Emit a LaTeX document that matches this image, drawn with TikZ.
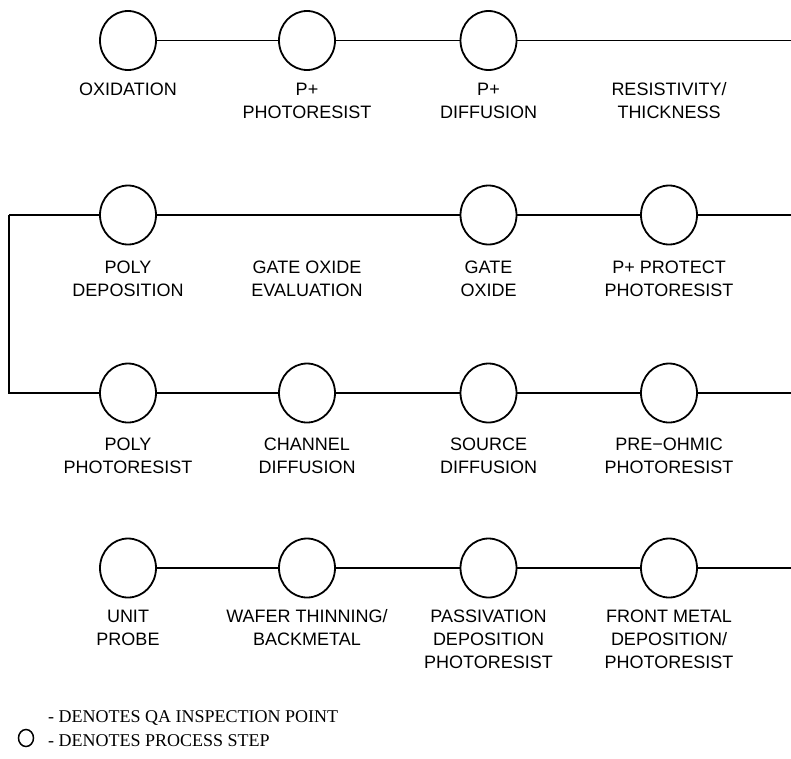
\documentclass[tikz,border=0pt]{standalone}
\usepackage{fontspec}
\setmainfont{Liberation Sans}
\newfontfamily\legendfont{Liberation Serif}
\usetikzlibrary{shapes.geometric}
\begin{document}
\begin{tikzpicture}[x=1pt,y=-1pt,
  stepnode/.style={ellipse, draw, line width=1.8pt, minimum width=56pt, minimum height=59pt, inner sep=0pt},
  lbl/.style={anchor=north, align=center, inner sep=0pt, font=\fontsize{18}{23}\selectfont},
  conn/.style={line width=1.8pt},
  legtext/.style={anchor=base west, inner sep=0pt, font=\legendfont\fontsize{18}{21}\selectfont}]
\useasboundingbox (0,0) rectangle (791,758);
% row 1
\node[stepnode] (a1) at (128,40.5) {};
\node[stepnode] (a2) at (307,40.5) {};
\node[stepnode] (a3) at (488.5,40.5) {};
\coordinate (aR) at (791,40.5);
\draw[conn] (a1) -- (a2) -- (a3) -- (aR);
\node[lbl] (la1) at (128,82) {\rule{0pt}{12.9pt}OXIDATION};
\node[lbl] (la2) at (307,82) {\rule{0pt}{12.9pt}P+\\PHOTORESIST};
\node[lbl] (la3) at (488.5,82) {\rule{0pt}{12.9pt}P+\\DIFFUSION};
\node[lbl] (la4) at (669,82) {\rule{0pt}{12.9pt}RESISTIVITY/\\THICKNESS};
% row 2
\node[stepnode] (b1) at (128,215) {};
\node[stepnode] (b3) at (488.5,215) {};
\node[stepnode] (b4) at (669,215) {};
\coordinate (bL) at (9,215);
\coordinate (bR) at (791,215);
\draw[conn] (bL) -- (b1) -- (b3) -- (b4) -- (bR);
\node[lbl] (lb1) at (128,260) {\rule{0pt}{12.9pt}POLY\\DEPOSITION};
\node[lbl] (lb2) at (307,260) {\rule{0pt}{12.9pt}GATE OXIDE\\EVALUATION};
\node[lbl] (lb3) at (488.5,260) {\rule{0pt}{12.9pt}GATE\\OXIDE};
\node[lbl] (lb4) at (669,260) {\rule{0pt}{12.9pt}P+ PROTECT\\PHOTORESIST};
% row 3
\node[stepnode] (c1) at (128,393) {};
\node[stepnode] (c2) at (307,393) {};
\node[stepnode] (c3) at (488.5,393) {};
\node[stepnode] (c4) at (669,393) {};
\coordinate (cL) at (9,393);
\coordinate (cR) at (791,393);
\draw[conn] (bL) -- (cL) -- (c1) -- (c2) -- (c3) -- (c4) -- (cR);
\node[lbl] (lc1) at (128,437.5) {\rule{0pt}{12.9pt}POLY\\PHOTORESIST};
\node[lbl] (lc2) at (307,437.5) {\rule{0pt}{12.9pt}CHANNEL\\DIFFUSION};
\node[lbl] (lc3) at (488.5,437.5) {\rule{0pt}{12.9pt}SOURCE\\DIFFUSION};
\node[lbl] (lc4) at (669,437.5) {\rule{0pt}{12.9pt}PRE−OHMIC\\PHOTORESIST};
% row 4
\node[stepnode] (d1) at (128,568) {};
\node[stepnode] (d2) at (307,568) {};
\node[stepnode] (d3) at (488.5,568) {};
\node[stepnode] (d4) at (669,568) {};
\coordinate (dR) at (791,568);
\draw[conn] (d1) -- (d2) -- (d3) -- (d4) -- (dR);
\node[lbl] (ld1) at (128,609.5) {\rule{0pt}{12.9pt}UNIT\\PROBE};
\node[lbl] (ld2) at (307,609.5) {\rule{0pt}{12.9pt}WAFER THINNING/\\BACKMETAL};
\node[lbl] (ld3) at (488.5,609.5) {\rule{0pt}{12.9pt}PASSIVATION\\DEPOSITION\\PHOTORESIST};
\node[lbl] (ld4) at (669,609.5) {\rule{0pt}{12.9pt}FRONT METAL\\DEPOSITION/\\PHOTORESIST};
% legend
\node[ellipse, draw, line width=1.5pt, minimum width=15pt, minimum height=17pt, inner sep=0pt] (legc) at (26,738) {};
\node[legtext] (leg1) at (48,722) {- DENOTES QA INSPECTION POINT};
\node[legtext] (leg2) at (48,746) {- DENOTES PROCESS STEP};
\end{tikzpicture}
\end{document}
